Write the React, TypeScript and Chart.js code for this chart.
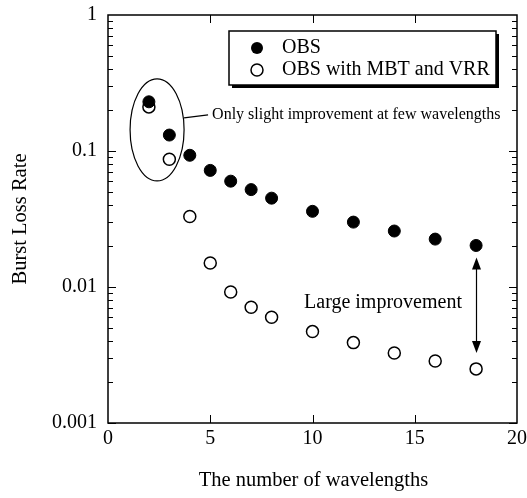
import React, { useEffect, useRef } from "react";
import { Chart, registerables } from "chart.js";

Chart.register(...registerables);

const wavelengths = [2, 3, 4, 5, 6, 7, 8, 10, 12, 14, 16, 18];
const obs = [0.23, 0.131, 0.093, 0.072, 0.06, 0.052, 0.045, 0.036, 0.03, 0.0258, 0.0225, 0.0202];
const obsMbtVrr = [0.211, 0.087, 0.033, 0.015, 0.0092, 0.0071, 0.006, 0.0047, 0.0039, 0.00327, 0.00286, 0.0025];
const yTickValues = [0.001, 0.01, 0.1, 1];
const yTickLabels = ["0.001", "0.01", "0.1", "1"];
const xTickValues = [0, 5, 10, 15, 20];
const seriesNames = ["OBS", "OBS with MBT and VRR"];
const xTitle = "The number of wavelengths";
const yTitle = "Burst Loss Rate";
const note1 = "Only slight improvement at few wavelengths";
const note2 = "Large improvement";

const FONT = "'Liberation Serif', 'DejaVu Serif', serif";

const decor = {
  id: "decor",
  afterDraw(chart: any) {
    const ctx = chart.ctx;
    const xs = chart.scales.x;
    const ys = chart.scales.y;
    const { left, right, top, bottom } = chart.chartArea;
    ctx.save();
    ctx.strokeStyle = "#000";
    ctx.fillStyle = "#000";
    ctx.lineWidth = 1.5;
    // frame
    ctx.strokeRect(left, top, right - left, bottom - top);
    // y ticks (major + minor), left and right, inside
    ctx.lineWidth = 1;
    for (let e = -3; e < 0; e++) {
      for (let m = 1; m <= 9; m++) {
        const v = m * Math.pow(10, e);
        const py = Math.round(ys.getPixelForValue(v)) + 0.5;
        const len = m === 1 ? 8 : 5;
        ctx.beginPath();
        ctx.moveTo(left, py);
        ctx.lineTo(left + len, py);
        ctx.moveTo(right, py);
        ctx.lineTo(right - len, py);
        ctx.stroke();
      }
    }
    // x ticks top and bottom
    for (const v of [5, 10, 15]) {
      const px = Math.round(xs.getPixelForValue(v)) + 0.5;
      ctx.beginPath();
      ctx.moveTo(px, bottom);
      ctx.lineTo(px, bottom - 8);
      ctx.moveTo(px, top);
      ctx.lineTo(px, top + 8);
      ctx.stroke();
    }
    // tick labels
    ctx.font = `20px ${FONT}`;
    ctx.textBaseline = "middle";
    ctx.textAlign = "right";
    yTickValues.forEach((v, i) => {
      ctx.fillText(yTickLabels[i], left - 11, ys.getPixelForValue(v));
    });
    ctx.textAlign = "center";
    xTickValues.forEach((v) => {
      ctx.fillText(String(v), xs.getPixelForValue(v), bottom + 16);
    });
    // axis titles
    ctx.font = `20.5px ${FONT}`;
    ctx.fillText(xTitle, (left + right) / 2 + 1, 481);
    ctx.save();
    ctx.translate(21, (top + bottom) / 2);
    ctx.rotate(-Math.PI / 2);
    ctx.fillText(yTitle, 0, 0);
    ctx.restore();

    // legend box with shadow
    const lx = 229, ly = 31, lw = 267, lh = 54;
    ctx.fillRect(lx + 3, ly + 3, lw, lh);
    ctx.fillStyle = "#fff";
    ctx.fillRect(lx, ly, lw, lh);
    ctx.lineWidth = 1.5;
    ctx.strokeRect(lx, ly, lw, lh);
    ctx.fillStyle = "#000";
    ctx.beginPath();
    ctx.arc(257, 48, 6, 0, Math.PI * 2);
    ctx.fill();
    ctx.beginPath();
    ctx.arc(257, 70, 6, 0, Math.PI * 2);
    ctx.fillStyle = "#fff";
    ctx.fill();
    ctx.stroke();
    ctx.fillStyle = "#000";
    ctx.font = `20px ${FONT}`;
    ctx.textAlign = "left";
    ctx.fillText(seriesNames[0], 282, 48);
    ctx.fillText(seriesNames[1], 282, 70);

    // ellipse annotation
    const ex = xs.getPixelForValue(2.4);
    const ey = ys.getPixelForValue(0.143);
    ctx.lineWidth = 1.2;
    ctx.beginPath();
    ctx.ellipse(ex, ey, 27, 51, 0, 0, Math.PI * 2);
    ctx.stroke();
    ctx.beginPath();
    ctx.moveTo(ex + 27, ey - 12);
    ctx.lineTo(ex + 51, ey - 15);
    ctx.stroke();
    ctx.font = `16px ${FONT}`;
    ctx.fillText(note1, ex + 55, ey - 15);

    // double arrow
    const ax = Math.round(xs.getPixelForValue(18)) + 0.5;
    const aTop = ys.getPixelForValue(0.0202) + 12;
    const aBot = ys.getPixelForValue(0.0025) - 16;
    ctx.lineWidth = 1.2;
    ctx.beginPath();
    ctx.moveTo(ax, aTop + 8);
    ctx.lineTo(ax, aBot - 8);
    ctx.stroke();
    ctx.beginPath();
    ctx.moveTo(ax, aTop);
    ctx.lineTo(ax - 4.5, aTop + 12);
    ctx.lineTo(ax + 4.5, aTop + 12);
    ctx.closePath();
    ctx.fill();
    ctx.beginPath();
    ctx.moveTo(ax, aBot);
    ctx.lineTo(ax - 4.5, aBot - 12);
    ctx.lineTo(ax + 4.5, aBot - 12);
    ctx.closePath();
    ctx.fill();
    ctx.font = `20px ${FONT}`;
    ctx.textAlign = "center";
    ctx.fillText(note2, 383, 303);
    ctx.restore();
  },
};

export default function App() {
  const ref = useRef<HTMLCanvasElement>(null);
  useEffect(() => {
    document.body.style.margin = "0";
    const canvas = ref.current!;
    const chart = new Chart(canvas, {
      type: "scatter",
      data: {
        datasets: [
          {
            label: seriesNames[0],
            data: wavelengths.map((x, i) => ({ x, y: obs[i] })),
            pointRadius: 6,
            pointBackgroundColor: "#000",
            pointBorderColor: "#000",
            pointBorderWidth: 1,
          },
          {
            label: seriesNames[1],
            data: wavelengths.map((x, i) => ({ x, y: obsMbtVrr[i] })),
            pointRadius: 6,
            pointBackgroundColor: "#fff",
            pointBorderColor: "#000",
            pointBorderWidth: 1.5,
          },
        ],
      },
      options: {
        responsive: false,
        animation: false,
        layout: { padding: { top: 15, right: 10, left: 0, bottom: 0 } },
        plugins: { legend: { display: false }, tooltip: { enabled: false } },
        scales: {
          x: {
            type: "linear",
            min: 0,
            max: 20,
            grid: { display: false, drawTicks: false },
            border: { display: false },
            ticks: { display: false, stepSize: 5 },
            afterFit: (s: any) => {
              s.height = 75;
            },
          },
          y: {
            type: "logarithmic",
            min: 0.001,
            max: 1,
            grid: { display: false, drawTicks: false },
            border: { display: false },
            afterBuildTicks: (s: any) => {
              s.ticks = yTickValues.map((v) => ({ value: v }));
            },
            ticks: { display: false },
            afterFit: (s: any) => {
              s.width = 108;
            },
          },
        },
      },
      plugins: [decor],
    });
    return () => chart.destroy();
  }, []);
  return <canvas ref={ref} width={527} height={498} style={{ display: "block" }} />;
}
